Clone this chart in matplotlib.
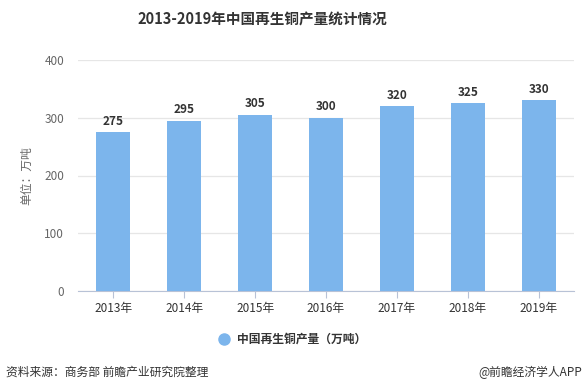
import matplotlib.pyplot as plt
import numpy as np

plt.rcParams['font.family'] = ['Noto Sans CJK SC', 'DejaVu Sans']

# 数据
years = ['2013年', '2014年', '2015年', '2016年', '2017年', '2018年', '2019年']
output = [275, 295, 305, 300, 320, 325, 330]
yticks = [0, 100, 200, 300, 400]

bar_color = '#7cb5ec'

fig = plt.figure(figsize=(5.88, 3.92), dpi=100)
ax = fig.add_axes([78/588, 1 - 291/392, (574 - 78)/588, (291 - 60)/392])

x = np.arange(len(years))
bars = ax.bar(x, output, width=0.48, color=bar_color, zorder=3)

for xi, v in zip(x, output):
    ax.text(xi, v + 8, str(v), ha='center', va='bottom', fontsize=8.5,
            fontweight='bold', color='#333333', zorder=4)

ax.set_xlim(-0.5, len(years) - 0.5)
ax.set_ylim(0, 400)
ax.set_yticks(yticks)
ax.set_xticks(x)
ax.set_xticklabels(years)
ax.tick_params(axis='y', length=0, labelsize=8.5, labelcolor='#666666', pad=10)
ax.tick_params(axis='x', length=5, color='#b8c2d6', labelsize=8.5,
               labelcolor='#333333', pad=3)
ax.grid(axis='y', color='#e6e6e6', linewidth=0.9, zorder=0)
for s in ['top', 'right', 'left']:
    ax.spines[s].set_visible(False)
ax.spines['bottom'].set_color('#b8c2d6')
ax.set_ylabel('单位：万吨', fontsize=8.5, color='#666666', labelpad=8)

fig.text(262/588, 1 - 20/392, '2013-2019年中国再生铜产量统计情况', ha='center', va='center',
         fontsize=10.5, fontweight='bold', color='#333333')

# 图例
fig.lines.append(plt.Line2D([224/588], [1 - 339/392], marker='o', markersize=8,
                            color=bar_color, transform=fig.transFigure))
fig.text(237/588, 1 - 339/392, '中国再生铜产量（万吨）', ha='left', va='center',
         fontsize=8.5, fontweight='bold', color='#333333')

fig.text(6/588, 1 - 372/392, '资料来源：商务部 前瞻产业研究院整理', ha='left', va='center',
         fontsize=8.5, color='#333333')
fig.text(582/588, 1 - 372/392, '@前瞻经济学人APP', ha='right', va='center',
         fontsize=8.5, color='#333333')

fig.savefig('out.png', dpi=100)
